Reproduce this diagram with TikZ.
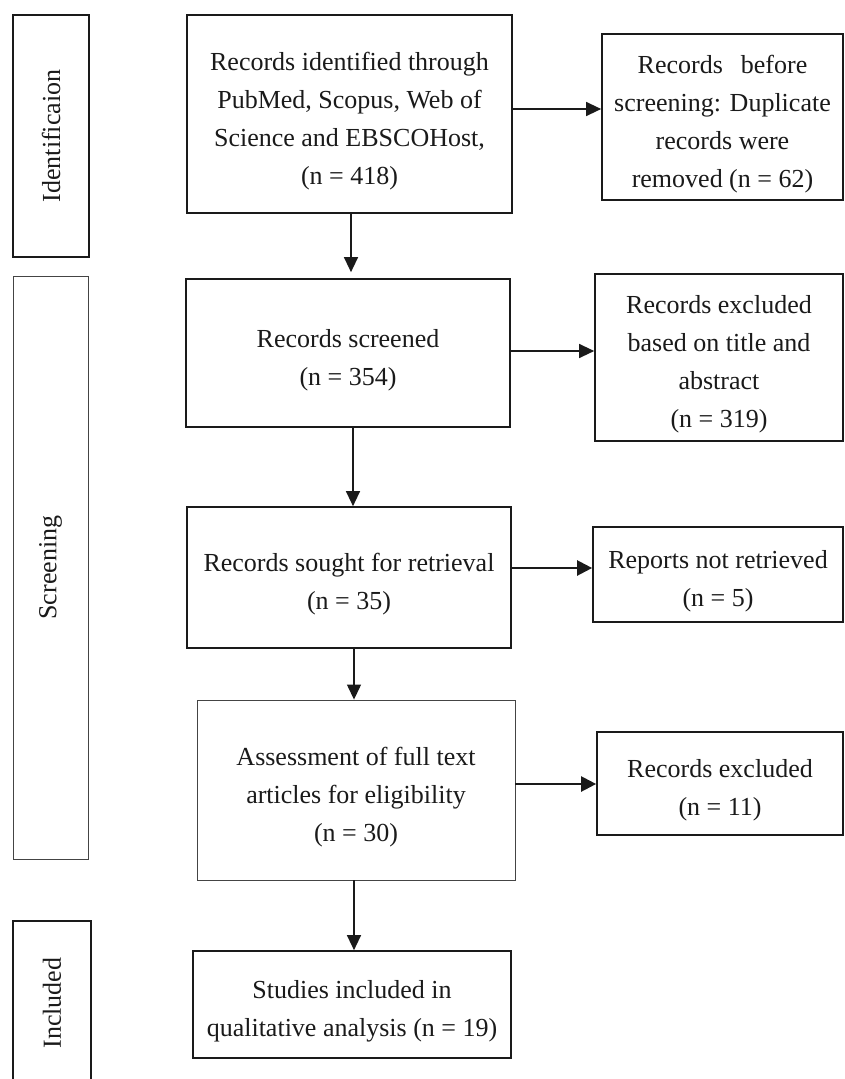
\documentclass[tikz,border=0pt]{standalone}
\usepackage{fontspec}
\setmainfont{Liberation Serif}
\usetikzlibrary{arrows.meta,calc}
\definecolor{ink}{HTML}{1A1A1A}
\definecolor{thinink}{HTML}{444444}
\newcommand{\toppad}{\rule{0pt}{32pt}}
\begin{document}
\begin{tikzpicture}[x=1pt,y=1pt,
  txt/.style={font=\fontsize{26}{38}\selectfont, text=ink, align=center},
  mainbox/.style={txt, draw=ink, line width=1.7pt, rectangle, inner sep=0pt},
  thinbox/.style={txt, draw=thinink, line width=0.9pt, rectangle, inner sep=0pt},
  sidebox/.style={draw=ink, line width=1.7pt, rectangle, inner sep=0pt},
  sidethin/.style={draw=thinink, line width=0.9pt, rectangle, inner sep=0pt},
  sidelabel/.style={txt, rotate=90},
  arr/.style={draw=ink, line width=1.3pt, -{Triangle[length=15pt,width=14pt]}},
  arrthick/.style={draw=ink, line width=2.3pt, -{Triangle[length=15pt,width=15pt]}}
]
\useasboundingbox (0,0) rectangle (844,-1079);
\fill[white] (0,0) rectangle (844,-1079);

% side phase boxes
\node[sidebox, minimum width=76pt, minimum height=242pt] (ident) at (51,-136) {};
\node[sidelabel] (identlbl) at (ident.center) {Identificaion};
\node[sidethin, minimum width=75pt, minimum height=583pt] (screen) at (50.5,-567.5) {};
\node[sidelabel] (screenlbl) at (screen.center) {Screening};
\node[sidebox, minimum width=78pt, minimum height=164pt] (incl) at (52,-1003) {};
\node[sidelabel] (incllbl) at (incl.center) {Included};

% main column
\node[mainbox, minimum width=325pt, minimum height=198pt] (b1) at (349.5,-114)
  {\toppad Records identified through\\PubMed, Scopus, Web of\\Science and EBSCOHost,\\(n = 418)};
\node[mainbox, minimum width=324pt, minimum height=148pt] (b2) at (348,-353)
  {\toppad Records screened\\(n = 354)};
\node[mainbox, minimum width=324pt, minimum height=141pt] (b3) at (349,-577.5)
  {\toppad Records sought for retrieval\\(n = 35)};
\node[thinbox, minimum width=318pt, minimum height=180pt] (b4) at (356,-790)
  {\toppad Assessment of full text\\articles for eligibility\\(n = 30)};
\node[mainbox, minimum width=318pt, minimum height=107pt] (b5) at (352,-1004.5)
  {\toppad Studies included in\\qualitative analysis (n = 19)};

% right column
\node[mainbox, minimum width=241pt, minimum height=166pt] (r1) at (722.5,-117)
  {\toppad Records\hspace{18pt}before\\screening: Duplicate\\records were\\removed (n = 62)};
\node[mainbox, minimum width=248pt, minimum height=167pt] (r2) at (719,-357.5)
  {\toppad Records excluded\\based on title and\\abstract\\(n = 319)};
\node[mainbox, minimum width=250pt, minimum height=95pt] (r3) at (718,-574.5)
  {\toppad Reports not retrieved\\(n = 5)};
\node[mainbox, minimum width=246pt, minimum height=103pt] (r4) at (720,-783.5)
  {\toppad Records excluded\\(n = 11)};

% horizontal arrows
\draw[arr] ([yshift=5pt]b1.east) -- ([yshift=5pt]b1.east -| r1.west);
\draw[arr] ([yshift=2pt]b2.east) -- ([yshift=2pt]b2.east -| r2.west);
\draw[arrthick] ([yshift=9.5pt]b3.east) -- ([yshift=9.5pt]b3.east -| r3.west);
\draw[arrthick] ([yshift=6pt]b4.east) -- ([yshift=6pt]b4.east -| r4.west);

% vertical arrows
\draw[arr] ([xshift=1.5pt]b1.south) -- ([xshift=1.5pt,yshift=6pt]b1.south |- b2.north);
\draw[arr] ([xshift=5pt]b2.south) -- ([xshift=5pt]b2.south |- b3.north);
\draw[arr] ([xshift=5pt]b3.south) -- ([xshift=5pt]b3.south |- b4.north);
\draw[arr] ([xshift=-2pt]b4.south) -- ([xshift=-2pt]b4.south |- b5.north);
\end{tikzpicture}
\end{document}
